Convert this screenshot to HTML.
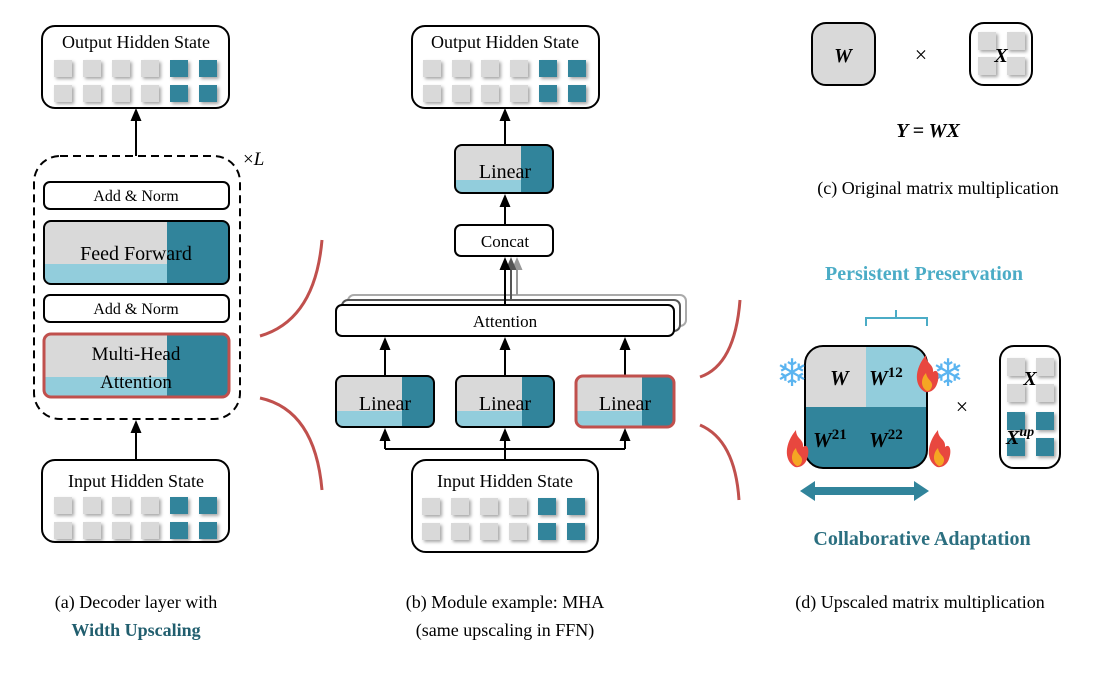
<!DOCTYPE html>
<html><head><meta charset="utf-8"><style>
html,body{margin:0;padding:0;background:#fff}
svg{display:block}
text{font-family:"Liberation Serif",serif}
</style></head><body>
<svg width="1105" height="675" viewBox="0 0 1105 675" xmlns="http://www.w3.org/2000/svg">
<defs>
<filter id="sh" x="-30%" y="-30%" width="180%" height="180%"><feDropShadow dx="2" dy="2" stdDeviation="1.5" flood-color="#000" flood-opacity="0.35"/></filter>
<g id="sq6">
<rect x="0" y="0" width="18" height="17" fill="#d9d9d9" filter="url(#sh)"/>
<rect x="29" y="0" width="18" height="17" fill="#d9d9d9" filter="url(#sh)"/>
<rect x="58" y="0" width="18" height="17" fill="#d9d9d9" filter="url(#sh)"/>
<rect x="87" y="0" width="18" height="17" fill="#d9d9d9" filter="url(#sh)"/>
<rect x="116" y="0" width="18" height="17" fill="#31849b" filter="url(#sh)"/>
<rect x="145" y="0" width="18" height="17" fill="#31849b" filter="url(#sh)"/>
<rect x="0" y="25" width="18" height="17" fill="#d9d9d9" filter="url(#sh)"/>
<rect x="29" y="25" width="18" height="17" fill="#d9d9d9" filter="url(#sh)"/>
<rect x="58" y="25" width="18" height="17" fill="#d9d9d9" filter="url(#sh)"/>
<rect x="87" y="25" width="18" height="17" fill="#d9d9d9" filter="url(#sh)"/>
<rect x="116" y="25" width="18" height="17" fill="#31849b" filter="url(#sh)"/>
<rect x="145" y="25" width="18" height="17" fill="#31849b" filter="url(#sh)"/>
</g>
<path id="ah" d="M0,0 L-5.5,13 L5.5,13 Z"/>
<clipPath id="cFF"><rect x="44" y="221" width="185" height="63" rx="7"/></clipPath>
<clipPath id="cMH"><rect x="44" y="334" width="185" height="63" rx="7"/></clipPath>
<clipPath id="cL0"><rect x="455" y="145" width="98" height="48" rx="7"/></clipPath>
<clipPath id="cL1"><rect x="336" y="376" width="98" height="51" rx="7"/></clipPath>
<clipPath id="cL2"><rect x="456" y="376" width="98" height="51" rx="7"/></clipPath>
<clipPath id="cL3"><rect x="576" y="376" width="98" height="51" rx="7"/></clipPath>
<clipPath id="cBig"><rect x="805" y="346" width="122" height="122" rx="18"/></clipPath>
</defs>

<!-- ===== Left panel ===== -->
<rect x="42" y="26" width="187" height="82" rx="13" fill="#fff" stroke="#000" stroke-width="2"/>
<text x="136" y="48" font-size="18" text-anchor="middle">Output Hidden State</text>
<use href="#sq6" x="54" y="60"/>
<line x1="136" y1="156" x2="136" y2="118" stroke="#000" stroke-width="2"/>
<use href="#ah" x="136" y="108" fill="#000"/>
<rect x="34" y="156" width="206" height="263" rx="26" fill="none" stroke="#000" stroke-width="2" stroke-dasharray="8,5"/>
<text x="243" y="165" font-size="19">×<tspan font-style="italic">L</tspan></text>
<rect x="44" y="182" width="185" height="27" rx="6" fill="#fff" stroke="#000" stroke-width="2"/>
<text x="136" y="201" font-size="16" text-anchor="middle">Add &amp; Norm</text>
<g clip-path="url(#cFF)">
<rect x="44" y="221" width="185" height="63" fill="#d9d9d9"/>
<rect x="44" y="264" width="123" height="20" fill="#92cddc"/>
<rect x="167" y="221" width="62" height="63" fill="#31849b"/>
</g>
<rect x="44" y="221" width="185" height="63" rx="7" fill="none" stroke="#000" stroke-width="2"/>
<text x="136" y="260" font-size="20" text-anchor="middle">Feed Forward</text>
<rect x="44" y="295" width="185" height="27" rx="6" fill="#fff" stroke="#000" stroke-width="2"/>
<text x="136" y="314" font-size="16" text-anchor="middle">Add &amp; Norm</text>
<g clip-path="url(#cMH)">
<rect x="44" y="334" width="185" height="63" fill="#d9d9d9"/>
<rect x="44" y="377" width="123" height="20" fill="#92cddc"/>
<rect x="167" y="334" width="62" height="63" fill="#31849b"/>
</g>
<rect x="44" y="334" width="185" height="63" rx="7" fill="none" stroke="#c0504d" stroke-width="3"/>
<text x="136" y="360" font-size="19" text-anchor="middle">Multi-Head</text>
<text x="136" y="388" font-size="19" text-anchor="middle">Attention</text>
<line x1="136" y1="460" x2="136" y2="430" stroke="#000" stroke-width="2"/>
<use href="#ah" x="136" y="420" fill="#000"/>
<rect x="42" y="460" width="187" height="82" rx="13" fill="#fff" stroke="#000" stroke-width="2"/>
<text x="136" y="487" font-size="18" text-anchor="middle">Input Hidden State</text>
<use href="#sq6" x="54" y="497"/>
<path d="M260,336 Q315,320 322,240" fill="none" stroke="#c0504d" stroke-width="3"/>
<path d="M260,398 Q315,410 322,490" fill="none" stroke="#c0504d" stroke-width="3"/>
<text x="136" y="608" font-size="18" text-anchor="middle">(a) Decoder layer with</text>
<text x="136" y="636" font-size="18" text-anchor="middle" font-weight="bold" fill="#215e6e">Width Upscaling</text>

<!-- ===== Middle panel ===== -->
<rect x="412" y="26" width="187" height="82" rx="13" fill="#fff" stroke="#000" stroke-width="2"/>
<text x="505" y="48" font-size="18" text-anchor="middle">Output Hidden State</text>
<use href="#sq6" x="423" y="60"/>
<line x1="505" y1="145" x2="505" y2="118" stroke="#000" stroke-width="2"/>
<use href="#ah" x="505" y="108" fill="#000"/>
<g clip-path="url(#cL0)">
<rect x="455" y="145" width="98" height="48" fill="#d9d9d9"/>
<rect x="455" y="180" width="66" height="13" fill="#92cddc"/>
<rect x="521" y="145" width="32" height="48" fill="#31849b"/>
</g>
<rect x="455" y="145" width="98" height="48" rx="7" fill="none" stroke="#000" stroke-width="2"/>
<text x="505" y="178" font-size="20" text-anchor="middle">Linear</text>
<line x1="505" y1="225" x2="505" y2="204" stroke="#000" stroke-width="2"/>
<use href="#ah" x="505" y="194" fill="#000"/>
<rect x="455" y="225" width="98" height="31" rx="6" fill="#fff" stroke="#000" stroke-width="2"/>
<text x="505" y="247" font-size="17" text-anchor="middle">Concat</text>
<rect x="348" y="295" width="338" height="31" rx="6" fill="#fff" stroke="#aaa" stroke-width="2"/>
<rect x="342" y="300" width="338" height="31" rx="6" fill="#fff" stroke="#555" stroke-width="2"/>
<line x1="517" y1="295" x2="517" y2="268" stroke="#999" stroke-width="2"/>
<use href="#ah" x="517" y="257" fill="#999"/>
<line x1="511" y1="300" x2="511" y2="268" stroke="#555" stroke-width="2"/>
<use href="#ah" x="511" y="257" fill="#555"/>
<rect x="336" y="305" width="338" height="31" rx="6" fill="#fff" stroke="#000" stroke-width="2"/>
<line x1="505" y1="305" x2="505" y2="268" stroke="#000" stroke-width="2"/>
<use href="#ah" x="505" y="257" fill="#000"/>
<text x="505" y="327" font-size="17" text-anchor="middle">Attention</text>
<line x1="385" y1="376" x2="385" y2="348" stroke="#000" stroke-width="2"/>
<line x1="505" y1="376" x2="505" y2="348" stroke="#000" stroke-width="2"/>
<line x1="625" y1="376" x2="625" y2="348" stroke="#000" stroke-width="2"/>
<use href="#ah" x="385" y="337" fill="#000"/>
<use href="#ah" x="505" y="337" fill="#000"/>
<use href="#ah" x="625" y="337" fill="#000"/>
<g clip-path="url(#cL1)"><rect x="336" y="376" width="98" height="51" fill="#d9d9d9"/><rect x="336" y="411" width="66" height="16" fill="#92cddc"/><rect x="402" y="376" width="32" height="51" fill="#31849b"/></g>
<rect x="336" y="376" width="98" height="51" rx="7" fill="none" stroke="#000" stroke-width="2"/>
<text x="385" y="410" font-size="20" text-anchor="middle">Linear</text>
<g clip-path="url(#cL2)"><rect x="456" y="376" width="98" height="51" fill="#d9d9d9"/><rect x="456" y="411" width="66" height="16" fill="#92cddc"/><rect x="522" y="376" width="32" height="51" fill="#31849b"/></g>
<rect x="456" y="376" width="98" height="51" rx="7" fill="none" stroke="#000" stroke-width="2"/>
<text x="505" y="410" font-size="20" text-anchor="middle">Linear</text>
<g clip-path="url(#cL3)"><rect x="576" y="376" width="98" height="51" fill="#d9d9d9"/><rect x="576" y="411" width="66" height="16" fill="#92cddc"/><rect x="642" y="376" width="32" height="51" fill="#31849b"/></g>
<rect x="576" y="376" width="98" height="51" rx="7" fill="none" stroke="#c0504d" stroke-width="3"/>
<text x="625" y="410" font-size="20" text-anchor="middle">Linear</text>
<path d="M505,460 L505,449 M385,449 L625,449 M385,449 L385,440 M505,449 L505,440 M625,449 L625,440" stroke="#000" stroke-width="2" fill="none"/>
<use href="#ah" x="385" y="428" fill="#000"/>
<use href="#ah" x="505" y="428" fill="#000"/>
<use href="#ah" x="625" y="428" fill="#000"/>
<rect x="412" y="460" width="186" height="92" rx="14" fill="#fff" stroke="#000" stroke-width="2"/>
<text x="505" y="487" font-size="18" text-anchor="middle">Input Hidden State</text>
<use href="#sq6" x="422" y="498"/>
<path d="M700,377 Q735,365 740,300" fill="none" stroke="#c0504d" stroke-width="3"/>
<path d="M700,425 Q735,440 739,500" fill="none" stroke="#c0504d" stroke-width="3"/>
<text x="505" y="608" font-size="18" text-anchor="middle">(b) Module example: MHA</text>
<text x="505" y="636" font-size="18" text-anchor="middle">(same upscaling in FFN)</text>

<!-- ===== Right top ===== -->
<rect x="812" y="23" width="63" height="62" rx="14" fill="#d9d9d9" stroke="#000" stroke-width="2"/>
<text x="843" y="62" font-size="20" text-anchor="middle" font-weight="bold" font-style="italic">W</text>
<text x="921" y="62" font-size="22" text-anchor="middle">×</text>
<rect x="970" y="23" width="62" height="62" rx="14" fill="#fff" stroke="#000" stroke-width="2"/>
<rect x="978" y="32" width="18" height="18" fill="#d9d9d9" filter="url(#sh)"/>
<rect x="1007" y="32" width="18" height="18" fill="#d9d9d9" filter="url(#sh)"/>
<rect x="978" y="57" width="18" height="18" fill="#d9d9d9" filter="url(#sh)"/>
<rect x="1007" y="57" width="18" height="18" fill="#d9d9d9" filter="url(#sh)"/>
<text x="1001" y="62" font-size="20" text-anchor="middle" font-weight="bold" font-style="italic">X</text>
<text x="928" y="137" font-size="20" text-anchor="middle" font-weight="bold" font-style="italic">Y = WX</text>
<text x="938" y="194" font-size="18" text-anchor="middle">(c) Original matrix multiplication</text>

<!-- ===== Right bottom ===== -->
<text x="924" y="280" font-size="20" text-anchor="middle" font-weight="bold" fill="#4bacc6">Persistent Preservation</text>
<path d="M866,326 L866,318 L896,318 L896,310 M896,318 L927,318 L927,326" fill="none" stroke="#4bacc6" stroke-width="2"/>
<g clip-path="url(#cBig)">
<rect x="805" y="346" width="61" height="61" fill="#d9d9d9"/>
<rect x="866" y="346" width="61" height="61" fill="#92cddc"/>
<rect x="805" y="407" width="122" height="61" fill="#31849b"/>
</g>
<rect x="805" y="346" width="122" height="122" rx="18" fill="none" stroke="#000" stroke-width="2"/>
<g font-weight="bold" font-style="italic" font-size="21">
<text x="830" y="385">W</text>
<text x="869" y="385">W<tspan font-size="15" dy="-8" font-style="normal">12</tspan></text>
<text x="813" y="447">W<tspan font-size="15" dy="-8" font-style="normal">21</tspan></text>
<text x="869" y="447">W<tspan font-size="15" dy="-8" font-style="normal">22</tspan></text>
</g>
<text x="792" y="386" font-size="38" text-anchor="middle" fill="#5ab4f0">❄</text>
<text x="948" y="386" font-size="38" text-anchor="middle" fill="#5ab4f0">❄</text>
<g>
<path d="M925,392 C913,385 915,368 926,355 C926,364 934,364 933,372 C938,368 940,376 937,384 C935,390 930,393 925,392 Z" fill="#e8473f"/>
<path d="M927,391 C920,387 921,378 926,373 C927,380 933,381 932,386 C931,390 929,391 927,391 Z" fill="#f5a623"/>
<path d="M795,467 C783,460 785,443 796,430 C796,439 804,439 803,447 C808,443 810,451 807,459 C805,465 800,468 795,467 Z" fill="#e8473f"/>
<path d="M797,466 C790,462 791,453 796,448 C797,455 803,456 802,461 C801,465 799,466 797,466 Z" fill="#f5a623"/>
<path d="M937,467 C925,460 927,443 938,430 C938,439 946,439 945,447 C950,443 952,451 949,459 C947,465 942,468 937,467 Z" fill="#e8473f"/>
<path d="M939,466 C932,462 933,453 938,448 C939,455 945,456 944,461 C943,465 941,466 939,466 Z" fill="#f5a623"/>
</g>
<text x="962" y="414" font-size="22" text-anchor="middle">×</text>
<rect x="1000" y="346" width="60" height="122" rx="14" fill="#fff" stroke="#000" stroke-width="2"/>
<rect x="1007" y="358" width="18" height="18" fill="#d9d9d9" filter="url(#sh)"/>
<rect x="1036" y="358" width="18" height="18" fill="#d9d9d9" filter="url(#sh)"/>
<rect x="1007" y="384" width="18" height="18" fill="#d9d9d9" filter="url(#sh)"/>
<rect x="1036" y="384" width="18" height="18" fill="#d9d9d9" filter="url(#sh)"/>
<rect x="1007" y="412" width="18" height="18" fill="#31849b" filter="url(#sh)"/>
<rect x="1036" y="412" width="18" height="18" fill="#31849b" filter="url(#sh)"/>
<rect x="1007" y="438" width="18" height="18" fill="#31849b" filter="url(#sh)"/>
<rect x="1036" y="438" width="18" height="18" fill="#31849b" filter="url(#sh)"/>
<text x="1030" y="385" font-size="20" text-anchor="middle" font-weight="bold" font-style="italic">X</text>
<text x="1006" y="444" font-size="20" font-weight="bold" font-style="italic">X<tspan font-size="14" dy="-8">up</tspan></text>
<path d="M800,491 L815,481 L815,487 L914,487 L914,481 L929,491 L914,501 L914,495 L815,495 L815,501 Z" fill="#31849b"/>
<text x="922" y="545" font-size="20" text-anchor="middle" font-weight="bold" fill="#2b6f80">Collaborative Adaptation</text>
<text x="920" y="608" font-size="18" text-anchor="middle">(d) Upscaled matrix multiplication</text>
</svg>
</body></html>
